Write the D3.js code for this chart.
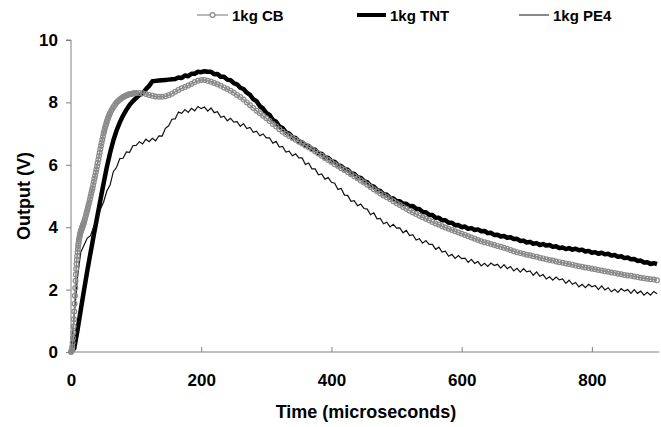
<!DOCTYPE html>
<html lang="en">
<head>
<meta charset="utf-8">
<script src="https://d3js.org/d3.v7.min.js"></script>
<style>
  body { margin: 0; background: #fff; }
  text { font-family: "Liberation Sans", Arial, sans-serif; font-weight: bold; fill: #000; }
</style>
</head>
<body>
<script>
// series names
const seriesNames = ["1kg CB", "1kg TNT", "1kg PE4"];

// sampling grid (microseconds): TNT and PE4 every 5 us
const time = d3.range(0, 905, 5);
// CB is sampled finer on the rise so the markers stay close together
const cbTime = [].concat(d3.range(0, 20, 0.5), d3.range(20, 60, 1), d3.range(60, 100, 2), d3.range(100, 905, 5));

// output (V)
const cbVolt = [
  // 0 - 19.5 (0.5 us)
  0.00, 0.02, 0.05, 0.10, 0.18, 0.30, 0.45, 0.62, 0.82, 1.05,
  1.30, 1.55, 1.80, 2.05, 2.28, 2.48, 2.66, 2.82, 2.96, 3.08,
  3.20, 3.30, 3.40, 3.48, 3.56, 3.62, 3.68, 3.73, 3.78, 3.82,
  3.86, 3.89, 3.92, 3.95, 3.98, 4.01, 4.04, 4.07, 4.10, 4.13,
  // 20 - 59 (1 us)
  4.16, 4.23, 4.31, 4.39, 4.47, 4.55, 4.63, 4.72, 4.80, 4.89,
  4.98, 5.07, 5.16, 5.25, 5.35, 5.45, 5.55, 5.65, 5.75, 5.85,
  5.95, 6.06, 6.17, 6.28, 6.39, 6.50, 6.60, 6.70, 6.80, 6.90,
  7.00, 7.08, 7.16, 7.24, 7.31, 7.38, 7.44, 7.50, 7.56, 7.61,
  // 60 - 98 (2 us)
  7.66, 7.74, 7.81, 7.88, 7.94, 8.00, 8.04, 8.08, 8.11, 8.14,
  8.17, 8.19, 8.21, 8.23, 8.25, 8.26, 8.27, 8.28, 8.29, 8.29,
  // 100 - 900 (5 us)
  8.30, 8.30, 8.29, 8.27, 8.24, 8.21, 8.19, 8.18, 8.18, 8.20,
  8.23, 8.28, 8.34, 8.40, 8.45, 8.49, 8.54, 8.59, 8.65, 8.69,
  8.72, 8.72, 8.69, 8.66, 8.62, 8.58, 8.53, 8.48, 8.43, 8.37,
  8.31, 8.24, 8.17, 8.09, 8.00, 7.91, 7.82, 7.73, 7.65, 7.57,
  7.49, 7.40, 7.31, 7.23, 7.14, 7.06, 6.99, 6.92, 6.86, 6.80,
  6.74, 6.68, 6.62, 6.56, 6.50, 6.43, 6.36, 6.29, 6.22, 6.15,
  6.09, 6.02, 5.96, 5.89, 5.83, 5.77, 5.70, 5.63, 5.57, 5.50,
  5.43, 5.36, 5.29, 5.22, 5.15, 5.08, 5.02, 4.96, 4.90, 4.83,
  4.77, 4.71, 4.65, 4.59, 4.53, 4.47, 4.42, 4.37, 4.32, 4.27,
  4.22, 4.17, 4.12, 4.08, 4.03, 3.99, 3.95, 3.91, 3.87, 3.83,
  3.79, 3.75, 3.71, 3.67, 3.63, 3.59, 3.55, 3.52, 3.49, 3.46,
  3.43, 3.40, 3.37, 3.34, 3.31, 3.27, 3.23, 3.20, 3.17, 3.15,
  3.12, 3.10, 3.07, 3.05, 3.02, 3.00, 2.97, 2.95, 2.93, 2.90,
  2.88, 2.86, 2.84, 2.82, 2.80, 2.77, 2.75, 2.73, 2.71, 2.69,
  2.67, 2.65, 2.63, 2.61, 2.59, 2.57, 2.55, 2.53, 2.51, 2.49,
  2.47, 2.45, 2.44, 2.42, 2.40, 2.38, 2.36, 2.35, 2.33, 2.32,
  2.30
];

const tntVolt = [
  0.00, 0.12, 0.70, 1.35, 1.98, 2.60, 3.18, 3.75, 4.30, 4.85,
  5.40, 5.92, 6.38, 6.78, 7.10, 7.36, 7.58, 7.76, 7.92, 8.04,
  8.14, 8.24, 8.29, 8.42, 8.53, 8.68, 8.69, 8.70, 8.71, 8.72,
  8.73, 8.74, 8.75, 8.80, 8.78, 8.86, 8.84, 8.92, 8.92, 8.98,
  8.97, 9.00, 8.98, 8.98, 8.90, 8.91, 8.82, 8.82, 8.73, 8.71,
  8.62, 8.58, 8.47, 8.43, 8.31, 8.24, 8.10, 8.04, 7.88, 7.80,
  7.66, 7.60, 7.44, 7.38, 7.23, 7.18, 7.04, 7.00, 6.88, 6.86,
  6.75, 6.72, 6.62, 6.60, 6.50, 6.48, 6.37, 6.35, 6.24, 6.22,
  6.12, 6.09, 5.99, 5.96, 5.86, 5.84, 5.73, 5.71, 5.60, 5.58,
  5.47, 5.44, 5.33, 5.30, 5.19, 5.16, 5.06, 5.04, 4.94, 4.92,
  4.83, 4.83, 4.75, 4.75, 4.67, 4.68, 4.59, 4.58, 4.49, 4.48,
  4.40, 4.39, 4.30, 4.30, 4.22, 4.22, 4.14, 4.14, 4.06, 4.07,
  4.00, 4.02, 3.95, 3.97, 3.91, 3.93, 3.87, 3.88, 3.81, 3.82,
  3.75, 3.76, 3.70, 3.72, 3.66, 3.68, 3.62, 3.63, 3.56, 3.57,
  3.51, 3.53, 3.47, 3.49, 3.43, 3.46, 3.41, 3.43, 3.37, 3.39,
  3.33, 3.35, 3.30, 3.33, 3.28, 3.31, 3.26, 3.28, 3.22, 3.24,
  3.18, 3.20, 3.15, 3.18, 3.13, 3.15, 3.09, 3.11, 3.05, 3.07,
  3.01, 3.03, 2.97, 2.98, 2.92, 2.93, 2.87, 2.88, 2.82, 2.85,
  2.82
];

const pe4Volt = [
  0.00, 1.20, 2.40, 3.20, 3.42, 3.65, 3.73, 4.03, 4.19, 4.57,
  4.80, 5.16, 5.35, 5.78, 5.92, 6.20, 6.21, 6.41, 6.40, 6.61,
  6.62, 6.74, 6.67, 6.82, 6.74, 6.85, 6.77, 6.93, 6.92, 7.17,
  7.25, 7.46, 7.47, 7.69, 7.65, 7.77, 7.68, 7.81, 7.73, 7.87,
  7.80, 7.85, 7.72, 7.82, 7.67, 7.70, 7.52, 7.56, 7.41, 7.49,
  7.37, 7.38, 7.23, 7.32, 7.16, 7.20, 7.04, 7.08, 6.93, 6.99,
  6.86, 6.86, 6.69, 6.75, 6.57, 6.59, 6.41, 6.44, 6.29, 6.35,
  6.22, 6.22, 6.01, 6.06, 5.87, 5.87, 5.68, 5.71, 5.54, 5.59,
  5.44, 5.41, 5.21, 5.24, 5.03, 5.02, 4.83, 4.85, 4.69, 4.74,
  4.60, 4.58, 4.40, 4.46, 4.27, 4.28, 4.11, 4.16, 4.01, 4.09,
  3.97, 3.98, 3.82, 3.90, 3.73, 3.76, 3.59, 3.63, 3.49, 3.57,
  3.45, 3.45, 3.29, 3.36, 3.20, 3.23, 3.07, 3.13, 3.00, 3.09,
  2.99, 3.01, 2.87, 2.97, 2.84, 2.90, 2.76, 2.84, 2.74, 2.85,
  2.77, 2.81, 2.69, 2.80, 2.67, 2.74, 2.60, 2.68, 2.56, 2.67,
  2.57, 2.60, 2.46, 2.57, 2.43, 2.48, 2.34, 2.41, 2.30, 2.40,
  2.31, 2.34, 2.20, 2.30, 2.17, 2.23, 2.09, 2.17, 2.06, 2.17,
  2.09, 2.13, 2.00, 2.12, 1.99, 2.06, 1.93, 2.01, 1.91, 2.03,
  1.95, 2.00, 1.88, 2.00, 1.88, 1.95, 1.82, 1.91, 1.82, 1.94,
  1.87
];

const xTicks = [0, 200, 400, 600, 800];
const yTicks = [0, 2, 4, 6, 8, 10];

function pairs(ts, vs) {
  const n = Math.min(ts.length, vs.length);
  return d3.range(n).map(i => ({ t: ts[i], v: vs[i] }));
}
const cbData = pairs(cbTime, cbVolt);
const tntData = pairs(time, tntVolt);
const pe4Data = pairs(time, pe4Volt);

// size and scales
const width = 661, height = 427;
const axisGrey = "#808080";
const cbGrey = "#8a8a8a";

const x = d3.scaleLinear().domain([0, 900]).range([71, 657]);
const y = d3.scaleLinear().domain([0, 10]).range([352, 40]);

const svg = d3.select("body").append("svg")
  .attr("width", width)
  .attr("height", height);

// y axis, ticks outward
const yAxis = svg.append("g")
  .attr("transform", "translate(71,0)")
  .call(d3.axisLeft(y).tickValues(yTicks).tickSize(5).tickPadding(8).tickFormat(d3.format("d")));
yAxis.select(".domain").attr("stroke", axisGrey).attr("d", `M-5,${y(10)}H0V${y(0)}`);
yAxis.selectAll(".tick line").attr("stroke", axisGrey);
yAxis.selectAll(".tick text").style("font-size", "17px");

// x axis, ticks point inward (up)
const xAxis = svg.append("g")
  .attr("transform", "translate(0,352)")
  .call(d3.axisBottom(x).tickValues(xTicks).tickSizeInner(-5).tickSizeOuter(0).tickPadding(22));
xAxis.select(".domain").attr("stroke", axisGrey).attr("d", `M${x(0)},0H659`);
xAxis.selectAll(".tick line").attr("stroke", axisGrey);
xAxis.selectAll(".tick text").style("font-size", "17px");

// axis titles
svg.append("text")
  .attr("x", 366).attr("y", 418)
  .attr("text-anchor", "middle")
  .style("font-size", "18px")
  .text("Time (microseconds)");

svg.append("text")
  .attr("transform", "translate(30,196) rotate(-90)")
  .attr("text-anchor", "middle")
  .style("font-size", "18px")
  .text("Output (V)");

const line = d3.line().x(d => x(d.t)).y(d => y(d.v));

// TNT: thick black trace
svg.append("path")
  .datum(tntData)
  .attr("fill", "none")
  .attr("stroke", "#000")
  .attr("stroke-width", 4.5)
  .attr("stroke-linejoin", "round")
  .attr("d", line);

// PE4: thin black trace
svg.append("path")
  .datum(pe4Data)
  .attr("fill", "none")
  .attr("stroke", "#111")
  .attr("stroke-width", 1.2)
  .attr("d", line);

// CB: grey trace with open circles
svg.append("path")
  .datum(cbData)
  .attr("fill", "none")
  .attr("stroke", cbGrey)
  .attr("stroke-width", 1.5)
  .attr("d", line);

svg.append("g")
  .selectAll("circle")
  .data(cbData)
  .join("circle")
  .attr("cx", d => x(d.t))
  .attr("cy", d => y(d.v))
  .attr("r", 2.4)
  .attr("fill", "none")
  .attr("stroke", cbGrey)
  .attr("stroke-width", 1.2);

// legend
const legend = svg.append("g").attr("transform", "translate(0,15)");
const legendItems = [
  { name: seriesNames[0], x0: 197, x1: 228, color: cbGrey, w: 1.2, marker: true },
  { name: seriesNames[1], x0: 357, x1: 386, color: "#000", w: 4, marker: false },
  { name: seriesNames[2], x0: 519, x1: 549, color: "#111", w: 1, marker: false }
];
legendItems.forEach(it => {
  legend.append("line")
    .attr("x1", it.x0).attr("x2", it.x1)
    .attr("y1", 0).attr("y2", 0)
    .attr("stroke", it.color)
    .attr("stroke-width", it.w);
  if (it.marker) {
    legend.append("circle")
      .attr("cx", (it.x0 + it.x1) / 2).attr("cy", 0).attr("r", 2.4)
      .attr("fill", "#fff").attr("stroke", it.color).attr("stroke-width", 1.2);
  }
  legend.append("text")
    .attr("x", it.x1 + 4).attr("y", 5.5)
    .style("font-size", "15px")
    .text(it.name);
});
</script>
</body>
</html>
